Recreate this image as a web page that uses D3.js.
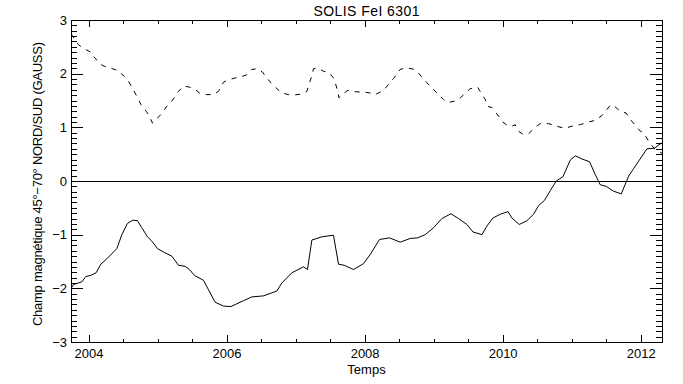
<!DOCTYPE html>
<html>
<head>
<meta charset="utf-8">
<script src="https://cdn.jsdelivr.net/npm/d3@7"></script>
<style>
    body { margin: 0; background: #fff; }
    text { font-family: "Liberation Sans", Arial, sans-serif; fill: #000; }
</style>
</head>
<body>
<div id="graphique"></div>
<script>
// Données (années décimales, champ en gauss)
const anneesSud = [2003.748, 2003.781, 2003.903, 2003.961, 2004.033, 2004.110, 2004.178, 2004.265, 2004.410, 2004.483,
    2004.564, 2004.642, 2004.709, 2004.772, 2004.854, 2004.917, 2004.999, 2005.096, 2005.207, 2005.303,
    2005.400, 2005.462, 2005.535, 2005.665, 2005.835, 2005.955, 2006.062, 2006.245, 2006.367, 2006.535,
    2006.729, 2006.801, 2006.946, 2007.114, 2007.172, 2007.236, 2007.381, 2007.549, 2007.622, 2007.704,
    2007.839, 2007.984, 2008.081, 2008.216, 2008.361, 2008.516, 2008.661, 2008.767, 2008.878, 2008.999,
    2009.120, 2009.251, 2009.361, 2009.483, 2009.570, 2009.700, 2009.772, 2009.859, 2009.965, 2010.077,
    2010.135, 2010.241, 2010.352, 2010.448, 2010.520, 2010.607, 2010.690, 2010.777, 2010.874, 2010.980,
    2011.052, 2011.149, 2011.259, 2011.342, 2011.414, 2011.501, 2011.607, 2011.719, 2011.825, 2011.897,
    2012.091, 2012.197, 2012.294, 2012.330];
const valeursSud = [-2.00, -1.93, -1.88, -1.78, -1.76, -1.71, -1.55, -1.45, -1.26, -1.00,
    -0.79, -0.73, -0.74, -0.87, -1.04, -1.12, -1.26, -1.33, -1.40, -1.57,
    -1.59, -1.65, -1.76, -1.85, -2.26, -2.33, -2.34, -2.23, -2.16, -2.14,
    -2.05, -1.90, -1.71, -1.60, -1.65, -1.10, -1.04, -1.01, -1.55, -1.57,
    -1.65, -1.54, -1.37, -1.09, -1.06, -1.14, -1.07, -1.06, -1.00, -0.87,
    -0.70, -0.61, -0.70, -0.81, -0.95, -1.00, -0.84, -0.69, -0.62, -0.57,
    -0.69, -0.81, -0.74, -0.62, -0.46, -0.36, -0.18, 0.00, 0.08, 0.39,
    0.47, 0.41, 0.36, 0.12, -0.07, -0.10, -0.19, -0.24, 0.09, 0.23,
    0.60, 0.61, 0.70, 0.72];

const anneesNord = [2003.748, 2003.854, 2003.917, 2004.048, 2004.081, 2004.168, 2004.226, 2004.352, 2004.419, 2004.520,
    2004.564, 2004.628, 2004.723, 2004.762, 2004.835, 2004.878, 2004.926, 2004.990, 2005.077, 2005.125,
    2005.207, 2005.255, 2005.303, 2005.375, 2005.462, 2005.535, 2005.617, 2005.714, 2005.801, 2005.883,
    2005.955, 2006.013, 2006.125, 2006.187, 2006.294, 2006.367, 2006.448, 2006.520, 2006.584, 2006.642,
    2006.729, 2006.801, 2006.897, 2006.970, 2007.081, 2007.164, 2007.201, 2007.226, 2007.259, 2007.309,
    2007.414, 2007.477, 2007.549, 2007.574, 2007.613, 2007.628, 2007.671, 2007.758, 2007.888, 2007.970,
    2008.081, 2008.154, 2008.274, 2008.419, 2008.516, 2008.603, 2008.723, 2008.781, 2008.903, 2009.048,
    2009.143, 2009.193, 2009.313, 2009.386, 2009.530, 2009.636, 2009.748, 2009.781, 2009.845, 2009.941,
    2009.990, 2010.062, 2010.135, 2010.183, 2010.216, 2010.294, 2010.375, 2010.472, 2010.545, 2010.665,
    2010.762, 2010.897, 2011.052, 2011.125, 2011.245, 2011.342, 2011.439, 2011.559, 2011.607, 2011.719,
    2011.787, 2011.874, 2011.994, 2012.042, 2012.125, 2012.200, 2012.330];
const valeursNord = [2.74, 2.54, 2.48, 2.39, 2.31, 2.18, 2.14, 2.09, 2.06, 1.95,
    1.89, 1.75, 1.52, 1.42, 1.30, 1.22, 1.08, 1.16, 1.28, 1.38,
    1.49, 1.57, 1.67, 1.77, 1.75, 1.72, 1.63, 1.61, 1.61, 1.67,
    1.84, 1.88, 1.92, 1.93, 1.98, 2.08, 2.09, 2.03, 1.92, 1.83,
    1.72, 1.64, 1.61, 1.60, 1.62, 1.67, 1.83, 1.92, 2.09, 2.11,
    2.04, 2.03, 1.92, 1.83, 1.67, 1.55, 1.61, 1.69, 1.66, 1.66,
    1.64, 1.61, 1.69, 1.91, 2.08, 2.11, 2.08, 2.01, 1.83, 1.64,
    1.52, 1.46, 1.49, 1.55, 1.72, 1.75, 1.52, 1.39, 1.37, 1.21,
    1.11, 1.04, 1.02, 1.05, 0.94, 0.87, 0.88, 1.00, 1.07, 1.07,
    1.03, 0.98, 1.04, 1.05, 1.10, 1.13, 1.22, 1.41, 1.41, 1.28,
    1.27, 1.11, 0.93, 0.90, 0.72, 0.60, 0.50];

const ticksX = [2004, 2006, 2008, 2010, 2012];
const ticksXMineurs = [2004.5, 2005, 2005.5, 2006.5, 2007, 2007.5, 2008.5, 2009, 2009.5, 2010.5, 2011, 2011.5];
const ticksY = [-3, -2, -1, 0, 1, 2, 3];
const ticksYMineurs = d3.range(-30, 31).filter(d => d % 10 !== 0).map(d => d / 10);

// Dimensions
const largeur = 683, hauteur = 384;
const margin = { top: 20, right: 21, bottom: 42, left: 71 };

const svg = d3.select("#graphique").append("svg")
    .attr("width", largeur)
    .attr("height", hauteur);

const x = d3.scaleLinear()
    .domain([2003.746, 2012.309])
    .range([margin.left, largeur - margin.right]);

const y = d3.scaleLinear()
    .domain([-3, 3])
    .range([hauteur - margin.bottom, margin.top]);

// Zone de découpe
svg.append("clipPath").attr("id", "zone")
    .append("rect")
    .attr("x", margin.left).attr("y", margin.top)
    .attr("width", largeur - margin.left - margin.right)
    .attr("height", hauteur - margin.top - margin.bottom);

// Axes (graduations vers l'intérieur, comme IDL)
function styleAxe(g) {
    g.selectAll("path, line").attr("stroke", "#000").attr("shape-rendering", "crispEdges");
    g.selectAll("text").attr("font-size", 13).attr("fill", "#000")
        .attr("font-family", "'Liberation Sans', Arial, sans-serif");
}

svg.append("g")
    .attr("transform", `translate(0,${hauteur - margin.bottom})`)
    .call(d3.axisBottom(x).tickValues(ticksX).tickFormat(d3.format("d"))
        .tickSizeInner(-7).tickSizeOuter(0).tickPadding(7))
    .call(styleAxe);
svg.append("g")
    .attr("transform", `translate(0,${hauteur - margin.bottom})`)
    .call(d3.axisBottom(x).tickValues(ticksXMineurs).tickFormat("")
        .tickSizeInner(-3.5).tickSizeOuter(0))
    .call(styleAxe);
svg.append("g")
    .attr("transform", `translate(0,${margin.top})`)
    .call(d3.axisTop(x).tickValues(ticksX).tickFormat("")
        .tickSizeInner(-7).tickSizeOuter(0))
    .call(styleAxe);
svg.append("g")
    .attr("transform", `translate(0,${margin.top})`)
    .call(d3.axisTop(x).tickValues(ticksXMineurs).tickFormat("")
        .tickSizeInner(-3.5).tickSizeOuter(0))
    .call(styleAxe);

svg.append("g")
    .attr("transform", `translate(${margin.left},0)`)
    .call(d3.axisLeft(y).tickValues(ticksY).tickFormat(d3.format("d"))
        .tickSizeInner(-12).tickSizeOuter(0).tickPadding(4))
    .call(styleAxe);
svg.append("g")
    .attr("transform", `translate(${margin.left},0)`)
    .call(d3.axisLeft(y).tickValues(ticksYMineurs).tickFormat("")
        .tickSizeInner(-6).tickSizeOuter(0))
    .call(styleAxe);
svg.append("g")
    .attr("transform", `translate(${largeur - margin.right},0)`)
    .call(d3.axisRight(y).tickValues(ticksY).tickFormat("")
        .tickSizeInner(-12).tickSizeOuter(0))
    .call(styleAxe);
svg.append("g")
    .attr("transform", `translate(${largeur - margin.right},0)`)
    .call(d3.axisRight(y).tickValues(ticksYMineurs).tickFormat("")
        .tickSizeInner(-6).tickSizeOuter(0))
    .call(styleAxe);

// Ligne zéro
svg.append("line")
    .attr("x1", margin.left).attr("x2", largeur - margin.right)
    .attr("y1", Math.round(y(0)) + 0.5).attr("y2", Math.round(y(0)) + 0.5)
    .attr("stroke", "#000")
    .attr("shape-rendering", "crispEdges");

// Courbes
const ligne = d3.line()
    .x(d => x(d[0]))
    .y(d => y(d[1]));

svg.append("path")
    .datum(d3.zip(anneesSud, valeursSud))
    .attr("clip-path", "url(#zone)")
    .attr("fill", "none")
    .attr("stroke", "#000")
    .attr("stroke-width", 1)
    .attr("d", ligne);

svg.append("path")
    .datum(d3.zip(anneesNord, valeursNord))
    .attr("clip-path", "url(#zone)")
    .attr("fill", "none")
    .attr("stroke", "#000")
    .attr("stroke-width", 1)
    .attr("stroke-dasharray", "5,6")
    .attr("d", ligne);

// Titres
svg.append("text")
    .attr("x", (margin.left + largeur - margin.right) / 2)
    .attr("y", 16)
    .attr("text-anchor", "middle")
    .attr("font-size", 14)
    .attr("textLength", 106)
    .attr("lengthAdjust", "spacing")
    .text("SOLIS FeI 6301");

svg.append("text")
    .attr("x", (margin.left + largeur - margin.right) / 2)
    .attr("y", 374)
    .attr("text-anchor", "middle")
    .attr("font-size", 13)
    .text("Temps");

svg.append("text")
    .attr("transform", `translate(42,184) rotate(-90)`)
    .attr("text-anchor", "middle")
    .attr("font-size", 13)
    .attr("textLength", 284)
    .attr("lengthAdjust", "spacing")
    .text("Champ magnétique 45°−70° NORD/SUD (GAUSS)");
</script>
</body>
</html>
